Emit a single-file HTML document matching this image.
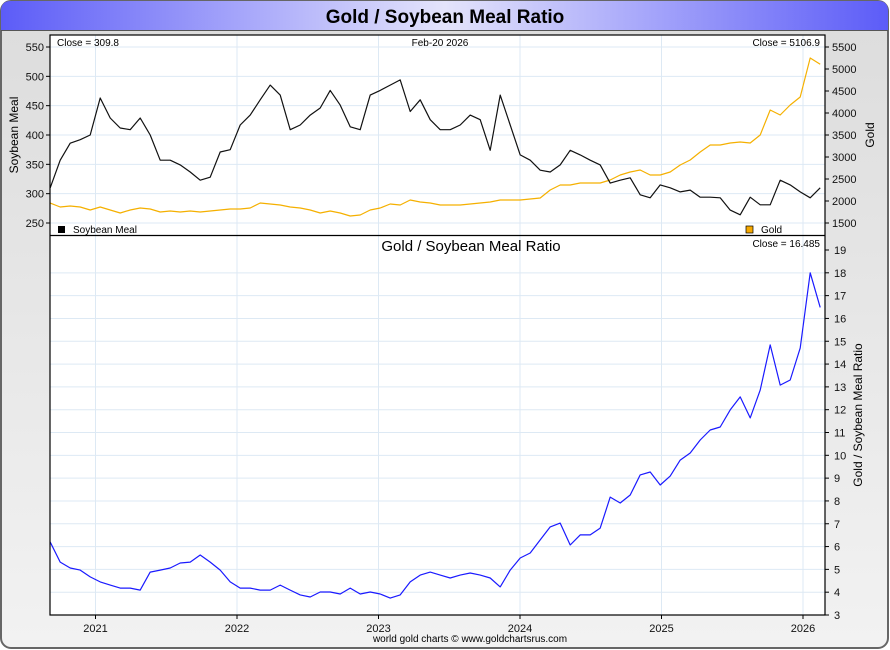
<!DOCTYPE html>
<html><head><meta charset="utf-8"><style>
html,body{margin:0;padding:0;width:890px;height:650px;overflow:hidden;background:#fff}
svg{display:block;font-family:"Liberation Sans",sans-serif}
</style></head><body>
<svg id="chart" width="890" height="650" viewBox="0 0 890 650" xmlns="http://www.w3.org/2000/svg">
<defs>
<linearGradient id="tbar" x1="0" x2="1" y1="0" y2="0">
<stop offset="0" stop-color="#5c5cf8"/><stop offset="0.5" stop-color="#e4e4fb"/><stop offset="1" stop-color="#5c5cf8"/>
</linearGradient>
<linearGradient id="frame" x1="0" x2="0" y1="0" y2="1">
<stop offset="0" stop-color="#dcdcdc"/><stop offset="1" stop-color="#f2f2f2"/>
</linearGradient>
<clipPath id="clipTop"><rect x="50" y="35" width="775" height="200"/></clipPath>
<clipPath id="clipBot"><rect x="50" y="236" width="775" height="379"/></clipPath>
</defs>
<rect x="1" y="1" width="887" height="647" rx="10" fill="url(#frame)" stroke="#666" stroke-width="2"/>
<path d="M1,30 L1,11 Q1,1 11,1 L878,1 Q888,1 888,11 L888,30 Z" fill="url(#tbar)"/>
<line x1="1" y1="30.5" x2="888" y2="30.5" stroke="#555"/>
<text x="445" y="23" text-anchor="middle" font-size="19" font-weight="bold" fill="#000">Gold / Soybean Meal Ratio</text>
<rect x="50" y="35" width="775" height="580" fill="#fff"/>
<g id="grid"></g>
<g id="series"></g>
<rect x="50" y="35" width="775" height="580" fill="none" stroke="#000" stroke-width="1.2"/>
<line x1="50" y1="235.5" x2="825" y2="235.5" stroke="#000" stroke-width="1.2"/>
<g id="axes" font-size="11" fill="#111"></g>
<text x="57" y="46" font-size="10">Close = 309.8</text>
<text x="440" y="46" font-size="10" text-anchor="middle">Feb-20  2026</text>
<text x="820" y="46" font-size="10" text-anchor="end">Close = 5106.9</text>
<rect x="58" y="226" width="7" height="7" fill="#000"/>
<text x="73" y="233" font-size="10">Soybean Meal</text>
<rect x="746" y="226" width="7" height="7" fill="#f5a800" stroke="#000" stroke-width="0.7"/>
<text x="761" y="233" font-size="10">Gold</text>
<text x="471" y="251" font-size="15" text-anchor="middle">Gold  /  Soybean Meal Ratio</text>
<text x="820" y="247" font-size="10" text-anchor="end">Close = 16.485</text>
<text transform="translate(18,135) rotate(-90)" font-size="12" text-anchor="middle">Soybean Meal</text>
<text transform="translate(874,135) rotate(-90)" font-size="12" text-anchor="middle">Gold</text>
<text transform="translate(862,415) rotate(-90)" font-size="12" text-anchor="middle">Gold / Soybean Meal Ratio</text>
<text x="470" y="642" font-size="10" text-anchor="middle">world gold charts © www.goldchartsrus.com</text>
</svg>
<script>
const startYear = 2020.68;
const stepYear = 0.07067;
const yearTicks = [2021, 2022, 2023, 2024, 2025, 2026];
const soyTicks = [250, 300, 350, 400, 450, 500, 550];
const goldTicks = [1500, 2000, 2500, 3000, 3500, 4000, 4500, 5000, 5500];
const ratioTicks = [3,4,5,6,7,8,9,10,11,12,13,14,15,16,17,18,19];
const soyValues = [310,357,386,392,400,463,429,412,409,429,400,357,357,349,337,323,328,371,375,417,434,460,485,468,409,417,434,446,476,451,414,409,468,476,485,494,440,460,426,409,409,417,434,426,374,468,417,366,357,340,337,349,374,366,357,349,318,323,327,298,293,315,310,303,306,294,294,293,272,264,294,281,281,323,315,303,293,310];
const goldValues = [1955,1864,1886,1864,1795,1864,1795,1727,1795,1841,1818,1750,1773,1750,1773,1750,1773,1795,1818,1818,1841,1955,1932,1909,1864,1841,1795,1727,1773,1727,1659,1682,1795,1841,1932,1909,2023,1977,1955,1909,1909,1909,1932,1955,1977,2023,2023,2023,2045,2068,2250,2364,2364,2409,2409,2409,2477,2591,2659,2705,2591,2591,2659,2818,2932,3114,3273,3273,3318,3341,3318,3500,4068,3955,4182,4364,5250,5107];
const ratioValues = [6.20,5.32,5.06,4.97,4.67,4.45,4.31,4.18,4.18,4.09,4.88,4.97,5.06,5.28,5.32,5.63,5.32,4.97,4.45,4.18,4.18,4.09,4.09,4.31,4.09,3.88,3.79,4.01,4.01,3.92,4.18,3.92,4.01,3.92,3.74,3.88,4.45,4.75,4.88,4.75,4.62,4.75,4.84,4.75,4.62,4.23,4.97,5.50,5.72,6.29,6.86,7.03,6.07,6.51,6.51,6.81,8.17,7.91,8.26,9.14,9.27,8.70,9.09,9.79,10.10,10.67,11.11,11.24,11.99,12.56,11.64,12.86,14.84,13.08,13.30,14.70,18.0,16.485];

const NS = "http://www.w3.org/2000/svg";
const xScale = yr => 95.5 + (yr - 2021) * 141.5;
const ySoy = v => 47 + (550 - v) * (176 / 300);
const yGold = v => 47 + (5500 - v) * (176 / 4000);
const yRatio = v => 250 + (19 - v) * (365 / 16);
const gGrid = document.getElementById('grid');
const gSeries = document.getElementById('series');
const gAxes = document.getElementById('axes');
function mk(tag, attrs, parent) {
  const e = document.createElementNS(NS, tag);
  for (const k in attrs) e.setAttribute(k, attrs[k]);
  parent.appendChild(e);
  return e;
}
// vertical year grid + labels
yearTicks.forEach(yr => {
  const x = xScale(yr);
  const l = mk('line', {x1: x, x2: x, y1: 35, y2: 615, stroke: '#dde9f4', 'stroke-width': 1}, gGrid);
  
  
  mk('line', {x1: x, x2: x, y1: 615, y2: 619, stroke: '#000'}, gAxes);
  const t = mk('text', {x: x, y: 632, 'text-anchor': 'middle'}, gAxes);
  t.textContent = yr;
  
  
});
soyTicks.forEach(v => {
  const y = ySoy(v);
  const l = mk('line', {x1: 50, x2: 825, y1: y, y2: y, stroke: '#dde9f4'}, gGrid);
  
  
  mk('line', {x1: 46, x2: 50, y1: y, y2: y, stroke: '#000'}, gAxes);
  const t = mk('text', {x: 44, y: y + 4, 'text-anchor': 'end'}, gAxes);
  t.textContent = v;
  
  
});
goldTicks.forEach(v => {
  const y = yGold(v);
  mk('line', {x1: 825, x2: 829, y1: y, y2: y, stroke: '#000'}, gAxes);
  const t = mk('text', {x: 832, y: y + 4}, gAxes);
  t.textContent = v;
  
  
});
ratioTicks.forEach(v => {
  const y = yRatio(v);
  if (v > 3 && v < 19) {
    const l = mk('line', {x1: 50, x2: 825, y1: y, y2: y, stroke: '#dde9f4'}, gGrid);
    
    
  }
  mk('line', {x1: 825, x2: 829, y1: y, y2: y, stroke: '#000'}, gAxes);
  const t = mk('text', {x: 834, y: y + 4}, gAxes);
  t.textContent = v;
  
  
});
function line(vals, yf, color, clip, name) {
  const d = vals.map((v, i) => (i ? 'L' : 'M') + xScale(startYear + i * stepYear).toFixed(1) + ',' + yf(v).toFixed(1)).join(' ');
  const p = mk('path', {d: d, fill: 'none', stroke: color, 'stroke-width': 1.2, 'stroke-linejoin': 'round', 'clip-path': 'url(#' + clip + ')'}, gSeries);
  
  
}
line(goldValues, yGold, '#f5b000', 'clipTop', 'gold-line');
line(soyValues, ySoy, '#111', 'clipTop', 'soybean-meal-line');
line(ratioValues, yRatio, '#1a1aff', 'clipBot', 'ratio-line');
</script>
</body></html>
